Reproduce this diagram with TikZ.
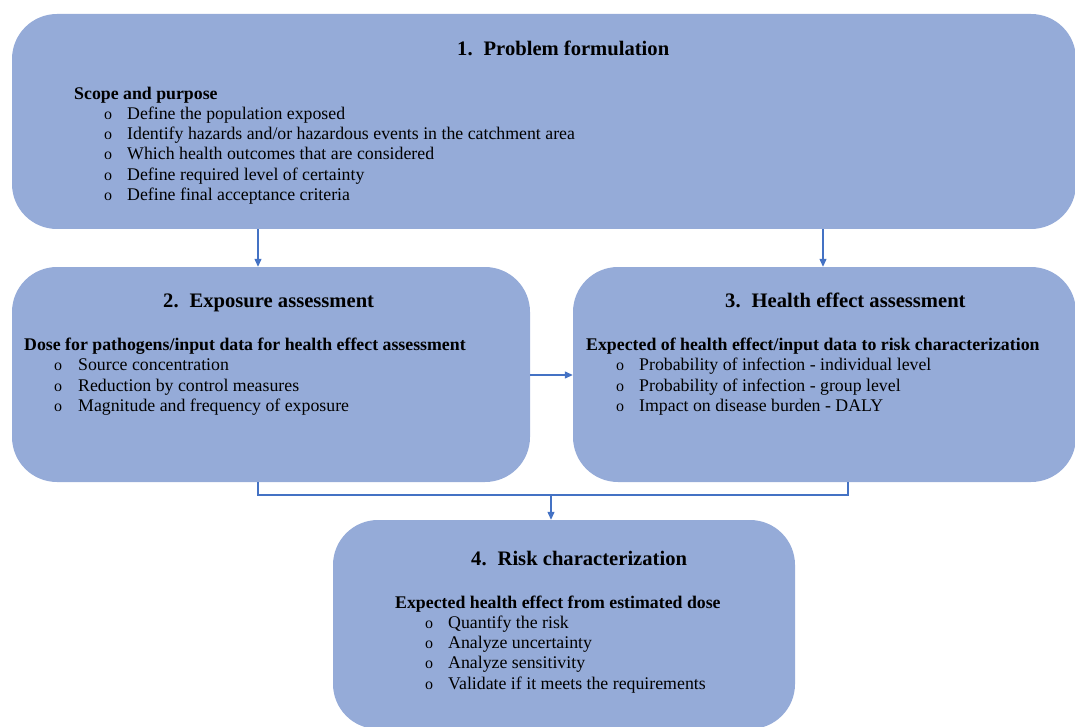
\documentclass[tikz,border=0pt]{standalone}
\usepackage{fontspec}
\setmainfont{Liberation Serif}
\usetikzlibrary{arrows.meta}
\definecolor{boxfill}{HTML}{95ABD8}
\definecolor{linkblue}{HTML}{4472C4}
\begin{document}
\begin{tikzpicture}[x=1pt,y=-1pt,
  stagebox/.style={draw=none,fill=boxfill,rounded corners=45pt,inner sep=0pt,
    minimum width=#1},
  ttl/.style={anchor=base west,inner sep=0pt,font=\fontsize{20.6}{24}\selectfont\bfseries},
  hdr/.style={anchor=base west,inner sep=0pt,font=\fontsize{17.8}{21}\selectfont\bfseries},
  itm/.style={anchor=base west,inner sep=0pt,font=\fontsize{17.8}{21}\selectfont},
  bul/.style={anchor=base west,inner sep=0pt,font=\fontsize{16}{18}\selectfont},
  link/.style={draw=linkblue,line width=1.2pt},
  arr/.style={link,-{Triangle[length=8pt,width=7pt]}}]
\clip (0,0) rectangle (1075,727);
\useasboundingbox (0,0) rectangle (1075,727);

% stage boxes
\node[stagebox=1064pt,minimum height=215pt] (b1) at (544,121.5) {};
\node[stagebox=518pt,minimum height=215pt] (b2) at (271,374.5) {};
\node[stagebox=503pt,minimum height=215pt] (b3) at (824.5,374.5) {};
\node[stagebox=462pt,minimum height=209pt] (b4) at (564,624.5) {};

% 1. Problem formulation
\node[ttl] (t1) at (457,56) {1.\hspace{11pt}Problem formulation};
\node[hdr] (h1) at (74,99.5) {Scope and purpose};
\foreach \yy/\txt [count=\i] in {119.5/{Define the population exposed},
    139.5/{Identify hazards and/or hazardous events in the catchment area},
    160/{Which health outcomes that are considered},
    180.5/{Define required level of certainty},
    201/{Define final acceptance criteria}}{
  \node[bul] (o1\i) at (104,\yy) {o};
  \node[itm] (p1\i) at (127,\yy) {\txt};
}

% 2. Exposure assessment
\node[ttl] (t2) at (163,307) {2.\hspace{11pt}Exposure assessment};
\node[hdr] (h2) at (24,350.5) {Dose for pathogens/input data for health effect assessment};
\foreach \yy/\txt [count=\i] in {370.5/{Source concentration},
    391/{Reduction by control measures},
    411.5/{Magnitude and frequency of exposure}}{
  \node[bul] (o2\i) at (54,\yy) {o};
  \node[itm] (p2\i) at (78,\yy) {\txt};
}

% 3. Health effect assessment
\node[ttl] (t3) at (725,307) {3.\hspace{11pt}Health effect assessment};
\node[hdr] (h3) at (586,350.5) {Expected of health effect/input data to risk characterization};
\foreach \yy/\txt [count=\i] in {370.5/{Probability of infection - individual level},
    391/{Probability of infection - group level},
    411.5/{Impact on disease burden - DALY}}{
  \node[bul] (o3\i) at (616,\yy) {o};
  \node[itm] (p3\i) at (639,\yy) {\txt};
}

% 4. Risk characterization
\node[ttl] (t4) at (471,565) {4.\hspace{11pt}Risk characterization};
\node[hdr] (h4) at (395,608.5) {Expected health effect from estimated dose};
\foreach \yy/\txt [count=\i] in {628.5/{Quantify the risk},
    648.5/{Analyze uncertainty},
    668.5/{Analyze sensitivity},
    689.5/{Validate if it meets the requirements}}{
  \node[bul] (o4\i) at (425,\yy) {o};
  \node[itm] (p4\i) at (448,\yy) {\txt};
}

% connectors
\coordinate (xa) at (258,0);
\coordinate (xb) at (823,0);
\coordinate (xc) at (848,0);
\coordinate (ry) at (0,375);
\coordinate (jn) at (551,495);
\draw[arr] (b1.south -| xa) -- (b2.north -| xa);
\draw[arr] (b1.south -| xb) -- (b3.north -| xb);
\draw[arr] (b2.east |- ry) -- (b3.west |- ry);
\draw[link] (b2.south -| xa) -- (xa |- jn) -- (xc |- jn) -- (b3.south -| xc);
\draw[arr] (jn) -- (b4.north -| jn);
\end{tikzpicture}
\end{document}
